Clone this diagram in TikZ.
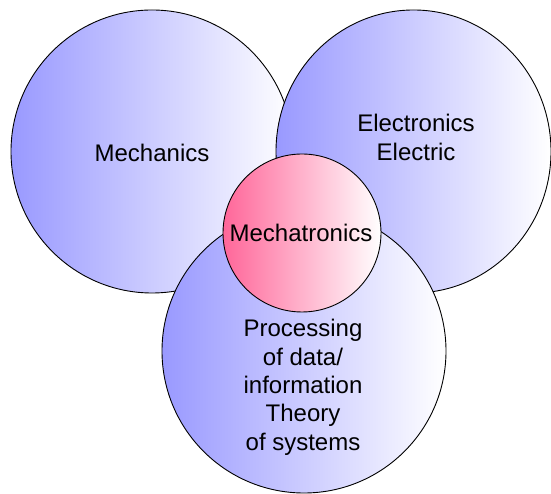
\documentclass[tikz,border=0pt]{standalone}
\usepackage{fontspec}
\setmainfont{Liberation Sans}
\usetikzlibrary{shapes.geometric}
\definecolor{fieldblue}{RGB}{153,153,255}
\definecolor{corepink}{RGB}{255,102,153}
\begin{document}
\begin{tikzpicture}[x=1pt, y=1pt,
  field/.style={draw, ellipse, inner sep=0pt, line width=0.9pt,
    right color=white, left color=fieldblue},
  core/.style={field, left color=corepink},
  caption/.style={font=\fontsize{24}{28}\selectfont, anchor=base, inner sep=0pt}]
  \useasboundingbox (0,0) rectangle (551,494);

  % --- the three fields ---
  \node[field, minimum width=282pt, minimum height=283pt] (mech) at (152,342.5) {};
  \node[field, minimum width=275pt, minimum height=283pt] (elec) at (413.5,342.5) {};
  \node[field, minimum size=284pt] (info) at (304,143) {};

  % --- the core where they meet ---
  \node[core, minimum size=158pt] (mechatronics) at (302,261) {};

  % --- captions ---
  \node[caption] (mechtext) at (152,332) {Mechanics};
  \node[caption] (electext) at (416,362) {Electronics};
  \node[caption] (electext2) at (416,333) {Electric};
  \node[caption] (coretext) at (301,252) {Mechatronics};
  \foreach \t [count=\i] in {Processing, of data/, information, Theory, of systems} {
    \node[caption] (infotext\i) at (303,{157-28.3*(\i-1)}) {\t};
  }
\end{tikzpicture}
\end{document}
